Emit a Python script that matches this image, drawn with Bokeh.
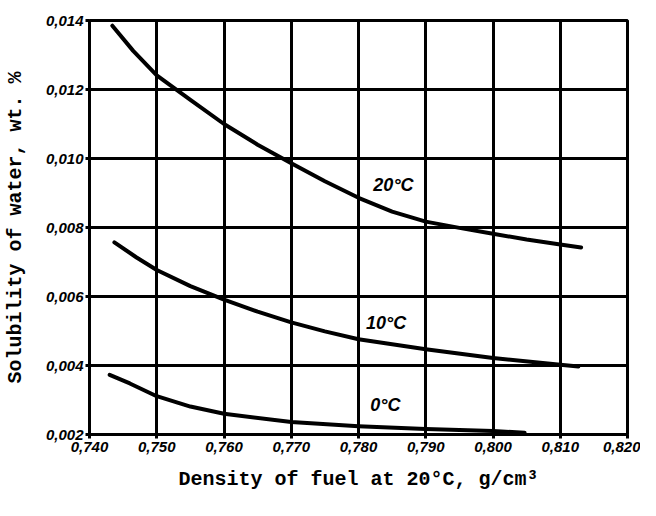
from bokeh.plotting import figure
from bokeh.models import Range1d, FixedTicker, ColumnDataSource
from bokeh.core.properties import value
from bokeh.embed import file_html
from bokeh.resources import INLINE

# ---- data ----
x_ticks = [0.740, 0.750, 0.760, 0.770, 0.780, 0.790, 0.800, 0.810, 0.820]
x_tick_labels = ["0,740", "0,750", "0,760", "0,770", "0,780", "0,790", "0,800", "0,810", "0,820"]
y_ticks = [0.002, 0.004, 0.006, 0.008, 0.010, 0.012, 0.014]
y_tick_labels = ["0,002", "0,004", "0,006", "0,008", "0,010", "0,012", "0,014"]

d20 = [0.7434, 0.7465, 0.750, 0.755, 0.760, 0.765, 0.770, 0.775, 0.780, 0.785, 0.790, 0.795, 0.800, 0.805, 0.810, 0.8131]
s20 = [0.01385, 0.01312, 0.01241, 0.01170, 0.01100, 0.01040, 0.00986, 0.00934, 0.00886, 0.00846, 0.00817, 0.00799, 0.00782, 0.00765, 0.00751, 0.00742]

d10 = [0.7437, 0.747, 0.750, 0.755, 0.760, 0.765, 0.770, 0.775, 0.780, 0.790, 0.800, 0.810, 0.8127]
s10 = [0.00757, 0.00713, 0.00677, 0.00630, 0.00591, 0.00556, 0.00525, 0.00499, 0.00476, 0.00447, 0.00422, 0.00402, 0.00397]

d0 = [0.7430, 0.746, 0.750, 0.755, 0.760, 0.770, 0.780, 0.790, 0.800, 0.8047]
s0 = [0.00373, 0.00348, 0.00311, 0.00281, 0.00260, 0.00236, 0.00224, 0.00216, 0.00210, 0.00205]

curve_labels = ["20°C", "10°C", "0°C"]
label_x = [0.7852, 0.7841, 0.7840]
label_y = [0.00923, 0.00522, 0.00286]

x_title = "Density of fuel at 20°C, g/cm³"
y_title = "Solubility of water, wt. %"

# ---- figure ----
p = figure(width=640, height=500, output_backend="svg", toolbar_location=None,
           x_range=Range1d(0.740, 0.820), y_range=Range1d(0.002, 0.014),
           min_border_left=89, min_border_right=13, min_border_top=20, min_border_bottom=66)
p.background_fill_color = "white"
p.border_fill_color = "white"
p.outline_line_color = "black"
p.outline_line_width = 3

p.xaxis.ticker = FixedTicker(ticks=x_ticks)
p.yaxis.ticker = FixedTicker(ticks=y_ticks)
p.xaxis.major_label_overrides = dict(zip(x_ticks, x_tick_labels))
p.yaxis.major_label_overrides = dict(zip(y_ticks, y_tick_labels))

for ax in (p.xaxis, p.yaxis):
    ax.axis_line_color = "black"
    ax.axis_line_width = 3
    ax.major_tick_line_color = "black"
    ax.major_tick_line_width = 3
    ax.major_tick_out = 4
    ax.major_tick_in = 0
    ax.minor_tick_line_color = None
    ax.major_label_text_color = "black"
    ax.major_label_text_font = "Liberation Sans"
    ax.major_label_text_font_style = "bold italic"
    ax.axis_label_text_color = "black"
    ax.axis_label_text_font = "Liberation Mono"
    ax.axis_label_text_font_style = "bold"
    ax.axis_label_text_font_size = "20px"

p.xaxis.major_label_text_font_size = "15px"
p.yaxis.major_label_text_font_size = "15px"
p.xaxis.major_label_standoff = 3
p.yaxis.major_label_standoff = 2
p.xaxis.axis_label = x_title
p.yaxis.axis_label = y_title
p.xaxis.axis_label_standoff = 13
p.yaxis.axis_label_standoff = 16

p.grid.grid_line_color = "black"
p.grid.grid_line_width = 3
p.grid.grid_line_alpha = 1.0

for xs, ys in ((d20, s20), (d10, s10), (d0, s0)):
    p.line(xs, ys, line_color="black", line_width=4, line_join="round", line_cap="round")

src = ColumnDataSource(dict(x=label_x, y=label_y, t=curve_labels))
p.text(x="x", y="y", text="t", source=src, text_font=value("Liberation Sans"),
       text_font_style="bold italic", text_font_size="18px", text_color="black",
       text_align="center", text_baseline="middle")

open("out.html", "w").write(file_html(p, INLINE))
